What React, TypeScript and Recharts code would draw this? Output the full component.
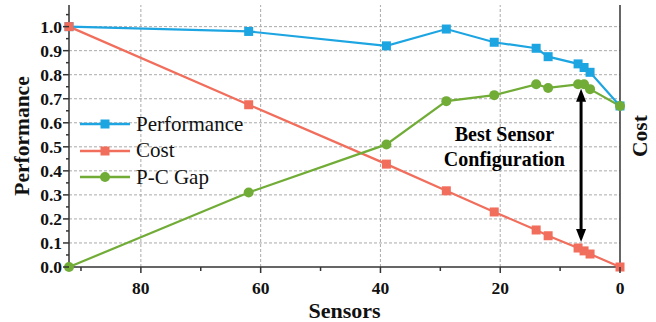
import { LineChart, Line, XAxis, YAxis, Legend, ReferenceLine, ReferenceDot } from 'recharts';

// values
const sensors = [92, 62, 39, 29, 21, 14, 12, 7, 6, 5, 0];
const performance = [1.0, 0.98, 0.92, 0.99, 0.935, 0.91, 0.875, 0.845, 0.83, 0.81, 0.67];
const cost = [1.0, 0.675, 0.428, 0.317, 0.229, 0.154, 0.13, 0.079, 0.067, 0.054, 0];
const gap = [0, 0.31, 0.51, 0.69, 0.715, 0.76, 0.745, 0.76, 0.76, 0.74, 0.67];

const xTicks = [0, 10, 20, 30, 40, 50, 60, 70, 80, 90];
const yTicks = [0, 0.05, 0.1, 0.15, 0.2, 0.25, 0.3, 0.35, 0.4, 0.45, 0.5, 0.55, 0.6, 0.65, 0.7, 0.75, 0.8, 0.85, 0.9, 0.95, 1.0, 1.05];
const rightTicks = [0, 0.1, 0.2, 0.3, 0.4, 0.5, 0.6, 0.7, 0.8, 0.9, 1.0, 1.1, 1.2, 1.3, 1.4];
const gridX = [20, 40, 60, 80];
const gridY = [0.1, 0.2, 0.3, 0.4, 0.5, 0.6, 0.7, 0.8, 0.9, 1.0];

// arrow marking the chosen configuration, in data units
const arrowX = 6.5;
const arrowFrom = 0.104;
const arrowTo = 0.742;
const noteAt = { x: 19.3, y: 0.5 };

const data = sensors.map((s, i) => ({
  sensors: s,
  performance: performance[i],
  cost: cost[i],
  gap: gap[i],
}));

const BLUE = '#1DA5E2';
const RED = '#F16E5C';
const GREEN = '#71AC37';
const AXIS = '#333';
const SERIF = 'Liberation Serif';

const series = [
  { key: 'performance', name: 'Performance', color: BLUE, marker: 'square' },
  { key: 'cost', name: 'Cost', color: RED, marker: 'square' },
  { key: 'gap', name: 'P-C Gap', color: GREEN, marker: 'circle' },
];

const near = (a: number, b: number) => Math.abs(a - b) < 1e-6;

const SquareDot = (props: any) => {
  const { cx, cy, fill } = props;
  if (cx == null || cy == null) return null;
  return <rect x={cx - 4.5} y={cy - 4.5} width={9} height={9} fill={fill} />;
};

const CircleDot = (props: any) => {
  const { cx, cy, fill } = props;
  if (cx == null || cy == null) return null;
  return <circle cx={cx} cy={cy} r={5} fill={fill} />;
};

const LeftTick = (props: any) => {
  const { x, y, payload } = props;
  const major = gridY.some((v) => near(v, payload.value)) || near(payload.value, 0);
  return (
    <g>
      <line x1={x - (major ? 6 : 3)} x2={x} y1={y} y2={y} stroke={AXIS} strokeWidth={1.5} />
      {major && (
        <text x={x - 7} y={y + 6} textAnchor="end" style={{ fontFamily: SERIF }} fontWeight="bold" fontSize={17.5} fill="#111">
          {payload.value.toFixed(1)}
        </text>
      )}
    </g>
  );
};

const RightTick = (props: any) => {
  const { x, y, payload } = props;
  const major = Math.round(payload.value * 10) % 2 === 0;
  return <line x1={x - (major ? 7 : 4)} x2={x} y1={y} y2={y} stroke={AXIS} strokeWidth={1.5} />;
};

const BottomTick = (props: any) => {
  const { x, y, payload } = props;
  const major = payload.value % 20 === 0;
  return (
    <g>
      <line x1={x} x2={x} y1={y} y2={y + (major ? 6 : 4)} stroke={AXIS} strokeWidth={1.5} />
      {major && (
        <text x={x} y={y + 27} textAnchor="middle" style={{ fontFamily: SERIF }} fontWeight="bold" fontSize={17.5} fill="#111">
          {payload.value}
        </text>
      )}
    </g>
  );
};

const DoubleArrow = (props: any) => {
  const { x1, y1, y2 } = props;
  const top = Math.min(y1, y2);
  const bottom = Math.max(y1, y2);
  return (
    <g>
      <line x1={x1} x2={x1} y1={top + 10} y2={bottom - 10} stroke="#000" strokeWidth={3} />
      <polygon points={`${x1},${top} ${x1 - 5},${top + 13} ${x1 + 5},${top + 13}`} fill="#000" />
      <polygon points={`${x1},${bottom} ${x1 - 5},${bottom - 13} ${x1 + 5},${bottom - 13}`} fill="#000" />
    </g>
  );
};

const Note = (props: any) => {
  const { cx, cy } = props;
  return (
    <text x={cx} y={cy} textAnchor="middle" style={{ fontFamily: SERIF }} fontWeight="bold" fontSize={20} fill="#000">
      <tspan x={cx} dy={-6}>Best Sensor</tspan>
      <tspan x={cx} dy={25}>Configuration</tspan>
    </text>
  );
};

const LegendContent = () => (
  <div style={{ fontFamily: SERIF, fontSize: 21, color: '#111' }}>
    {series.map((s) => (
      <div key={s.key} style={{ display: 'flex', alignItems: 'center', height: 26.5 }}>
        <svg width={54} height={14} style={{ marginRight: 3 }}>
          <line x1={1} x2={51} y1={7} y2={7} stroke={s.color} strokeWidth={2.5} />
          {s.marker === 'square' ? (
            <rect x={21.5} y={2.5} width={9} height={9} fill={s.color} />
          ) : (
            <circle cx={26} cy={7} r={5} fill={s.color} />
          )}
        </svg>
        <span style={{ lineHeight: '21px' }}>{s.name}</span>
      </div>
    ))}
  </div>
);

const App = () => (
  <div style={{ position: 'absolute', left: 0, top: 0, width: 656, height: 322, background: '#fff' }}>
    <LineChart width={656} height={322} data={data} margin={{ top: 5, right: 0, bottom: 0, left: 0 }}>
      <XAxis
        dataKey="sensors"
        type="number"
        domain={[0, 92]}
        reversed
        ticks={xTicks}
        interval={0}
        height={55}
        tickSize={0}
        tickMargin={0}
        tickLine={false}
        axisLine={{ stroke: AXIS, strokeWidth: 1.5 }}
        tick={<BottomTick />}
        label={(p: any) => {
          const vb = p.viewBox;
          return (
            <text x={vb.x + vb.width / 2} y={vb.y + 51} textAnchor="middle" style={{ fontFamily: SERIF }} fontWeight="bold" fontSize={22} fill="#111">
              Sensors
            </text>
          );
        }}
      />
      <XAxis
        xAxisId="top"
        dataKey="sensors"
        type="number"
        domain={[0, 92]}
        reversed
        orientation="top"
        height={0}
        tick={false}
        tickLine={false}
        axisLine={{ stroke: AXIS, strokeWidth: 1.5 }}
      />
      <YAxis
        type="number"
        domain={[0, 1.09]}
        ticks={yTicks}
        interval={0}
        width={69}
        tickSize={0}
        tickMargin={0}
        tickLine={false}
        axisLine={{ stroke: AXIS, strokeWidth: 1.5 }}
        tick={<LeftTick />}
        label={(p: any) => {
          const vb = p.viewBox;
          const cy = vb.y + vb.height / 2;
          return (
            <text x={22} y={cy} transform={`rotate(-90 22 ${cy})`} textAnchor="middle" dominantBaseline="central" style={{ fontFamily: SERIF }} fontWeight="bold" fontSize={21.5} fill="#111">
              Performance
            </text>
          );
        }}
      />
      <YAxis
        yAxisId="right"
        orientation="right"
        type="number"
        domain={[0, 1.5]}
        ticks={rightTicks}
        interval={0}
        width={36}
        tickSize={0}
        tickMargin={0}
        tickLine={false}
        axisLine={{ stroke: AXIS, strokeWidth: 1.5 }}
        tick={<RightTick />}
        label={(p: any) => {
          const vb = p.viewBox;
          const cx = vb.x + 20;
          const cy = vb.y + vb.height / 2;
          return (
            <text x={cx} y={cy} transform={`rotate(-90 ${cx} ${cy})`} textAnchor="middle" dominantBaseline="central" style={{ fontFamily: SERIF }} fontWeight="bold" fontSize={21.5} fill="#111">
              Cost
            </text>
          );
        }}
      />
      {gridY.map((v) => (
        <ReferenceLine key={`gy${v}`} y={v} stroke="#aaa" strokeDasharray="3 2" strokeWidth={1} />
      ))}
      {gridX.map((v) => (
        <ReferenceLine key={`gx${v}`} x={v} stroke="#aaa" strokeDasharray="3 2" strokeWidth={1} />
      ))}
      {/* centred + middle so the legend reserves no space; moved by wrapperStyle */}
      <Legend
        layout="horizontal"
        align="center"
        verticalAlign="middle"
        content={<LegendContent />}
        wrapperStyle={{ left: 79, top: 111, width: 'auto' }}
      />
      <Line
        dataKey="performance"
        name="Performance"
        stroke={BLUE}
        strokeWidth={2.2}
        dot={<SquareDot fill={BLUE} />}
        activeDot={false}
        isAnimationActive={false}
      />
      <Line
        dataKey="cost"
        name="Cost"
        stroke={RED}
        strokeWidth={2.2}
        dot={<SquareDot fill={RED} />}
        activeDot={false}
        isAnimationActive={false}
      />
      <Line
        dataKey="gap"
        name="P-C Gap"
        stroke={GREEN}
        strokeWidth={2.2}
        dot={<CircleDot fill={GREEN} />}
        activeDot={false}
        isAnimationActive={false}
      />
      <ReferenceLine
        segment={[{ x: arrowX, y: arrowFrom }, { x: arrowX, y: arrowTo }]}
        stroke="#000"
        shape={<DoubleArrow />}
        ifOverflow="visible"
      />
      <ReferenceDot x={noteAt.x} y={noteAt.y} r={0} shape={<Note />} ifOverflow="visible" />
    </LineChart>
  </div>
);

export default App;
